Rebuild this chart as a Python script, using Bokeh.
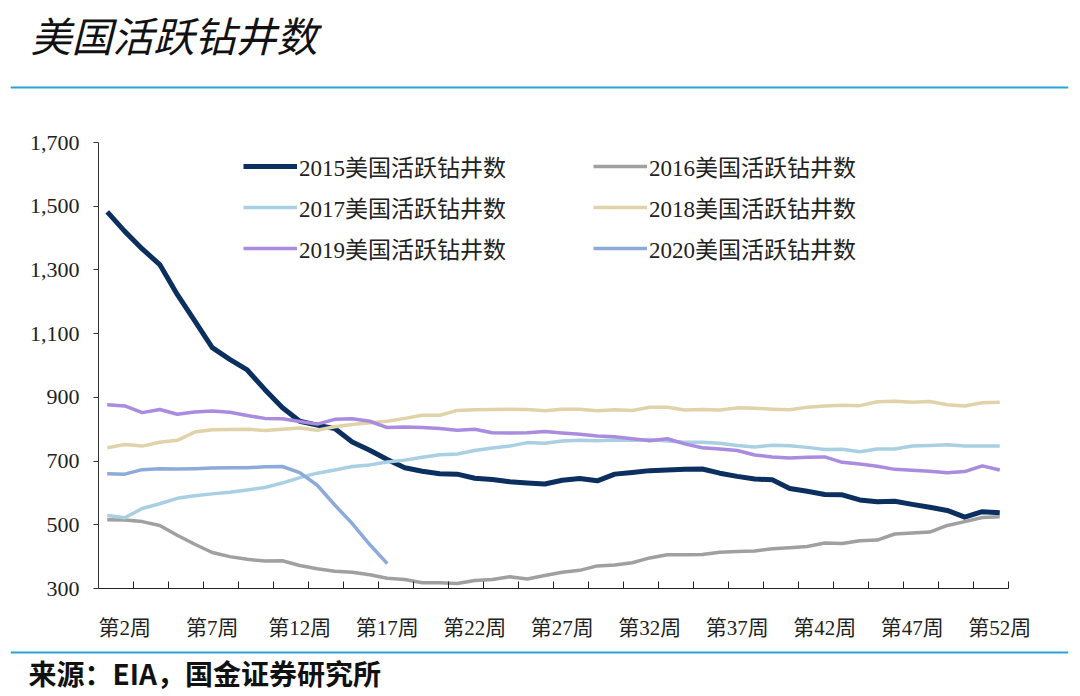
from bokeh.plotting import figure
from bokeh.layouts import column
from bokeh.models import (Range1d, FixedTicker, NumeralTickFormatter, Legend,
                          LegendItem, Label, Span)
from bokeh.embed import file_html
from bokeh.resources import INLINE

# ---------------- data ----------------
weeks = list(range(1, 53))
label_weeks = list(range(2, 53, 5))
week_labels = [f"第{w}周" for w in label_weeks]
y_ticks = list(range(300, 1701, 200))

y2015 = [1482, 1421, 1366, 1317, 1223, 1140, 1056, 1019, 986, 925, 868, 825, 813,
         802, 760, 734, 705, 679, 668, 660, 659, 646, 642, 635, 631, 628, 640, 645,
         638, 659, 664, 670, 672, 674, 675, 662, 652, 644, 641, 614, 605, 595, 594,
         578, 572, 574, 564, 555, 545, 524, 541, 538]
y2016 = [516, 515, 510, 498, 467, 439, 413, 400, 392, 386, 387, 372, 362, 354, 351,
         343, 332, 328, 318, 318, 316, 325, 328, 337, 330, 341, 351, 357, 371, 374,
         381, 396, 406, 406, 407, 414, 416, 418, 425, 428, 432, 443, 441, 450, 452,
         471, 474, 477, 498, 510, 523, 525]
y2017 = [529, 522, 551, 566, 583, 591, 597, 602, 609, 617, 631, 648, 662, 672, 683,
         688, 697, 703, 712, 720, 722, 733, 741, 747, 758, 756, 763, 765, 764, 766,
         765, 768, 763, 759, 759, 756, 749, 744, 750, 748, 743, 736, 737, 729, 738,
         738, 747, 749, 751, 747, 747, 747]
y2018 = [742, 752, 747, 759, 765, 791, 798, 799, 800, 796, 800, 804, 797, 808, 815,
         820, 825, 834, 844, 844, 859, 861, 862, 863, 862, 858, 863, 863, 858, 861,
         859, 869, 869, 860, 862, 860, 867, 866, 863, 861, 869, 873, 875, 874, 886,
         888, 885, 887, 877, 873, 883, 885]
y2019 = [877, 873, 852, 862, 847, 854, 857, 853, 843, 834, 833, 824, 816, 831, 833,
         825, 805, 807, 805, 802, 797, 800, 789, 788, 789, 793, 788, 784, 779, 776,
         770, 764, 770, 754, 742, 738, 733, 719, 713, 710, 712, 713, 696, 691, 684,
         674, 671, 668, 663, 667, 685, 672]
y2020 = [660, 659, 673, 676, 675, 676, 678, 679, 679, 682, 683, 664, 624, 562, 504,
         438, 378]

series_names = ["2015美国活跃钻井数", "2016美国活跃钻井数", "2017美国活跃钻井数",
                "2018美国活跃钻井数", "2019美国活跃钻井数", "2020美国活跃钻井数"]
series_values = [y2015, y2016, y2017, y2018, y2019, y2020]
series_colors = ["#0b2f5f", "#a0a0a0", "#a9cfe2", "#e0d3a9", "#a98be0", "#8eaadb"]
series_widths = [5, 3.5, 3.5, 3.5, 3.5, 3.5]

title_text = "美国活跃钻井数"
source_text = "来源：EIA，国金证券研究所"

SERIF_CJK = "Liberation Serif, Noto Sans CJK SC"
RULE_COLOR = "#2aa3d6"
W = 1072


def deco_figure(height):
    f = figure(width=W, height=height, output_backend="svg", toolbar_location=None,
               title=None, x_range=Range1d(0, 1058), y_range=Range1d(0, height),
               x_axis_type=None, y_axis_type=None,
               min_border_left=10, min_border_right=4, min_border_top=0,
               min_border_bottom=0)
    f.outline_line_color = None
    f.grid.visible = False
    return f


# ---------------- header ----------------
top = deco_figure(95)
top.add_layout(Label(x=20, y=62, x_units="screen", y_units="screen",
                     text=title_text, text_font="Noto Sans CJK SC",
                     text_font_style="italic", text_font_size="41px",
                     text_baseline="middle", text_color="#111111"))
top.add_layout(Span(location=8, dimension="width", line_color=RULE_COLOR,
                    line_width=2))

# ---------------- main chart ----------------
p = figure(width=W, height=547, output_backend="svg", toolbar_location=None,
           x_range=Range1d(0.5, 52.5), y_range=Range1d(300, 1700),
           min_border_left=98, min_border_right=64, min_border_top=47,
           min_border_bottom=45)
p.outline_line_color = None
p.grid.visible = False

renderers = []
for vals, col, lw in zip(series_values, series_colors, series_widths):
    r = p.line(weeks[:len(vals)], vals, line_color=col, line_width=lw,
               line_join="round")
    renderers.append(r)

yax = p.yaxis[0]
yax.ticker = FixedTicker(ticks=y_ticks)
yax.formatter = NumeralTickFormatter(format="0,0")
yax.major_tick_out = 5
yax.major_tick_in = 0
yax.minor_tick_line_color = None
yax.major_label_text_font = "Liberation Serif"
yax.major_label_text_font_size = "22px"
yax.major_label_text_color = "#222222"
yax.major_label_standoff = 14
yax.axis_line_color = "#333333"
yax.major_tick_line_color = "#333333"

xax = p.xaxis[0]
xax.ticker = FixedTicker(ticks=label_weeks,
                         minor_ticks=[w + 0.5 for w in range(2, 53, 2)])
xax.major_label_overrides = {w: t for w, t in zip(label_weeks, week_labels)}
xax.major_tick_line_color = None
xax.minor_tick_in = 7
xax.minor_tick_out = 0
xax.minor_tick_line_color = "#222222"
xax.axis_line_color = "#222222"
xax.major_label_text_font = SERIF_CJK
xax.major_label_text_font_size = "21px"
xax.major_label_text_color = "#222222"
xax.major_label_standoff = 21

# legend: Bokeh fills columns first, so order items column by column
order = [0, 2, 4, 1, 3, 5]
items = [LegendItem(label=series_names[i], renderers=[renderers[i]]) for i in order]
legend = Legend(items=items, ncols=2, location=(145, 323),
                glyph_width=54, glyph_height=20, label_height=20, label_width=287,
                spacing=7, padding=0, margin=0, label_standoff=2,
                border_line_color=None, background_fill_alpha=0,
                label_text_font=SERIF_CJK, label_text_font_size="23px",
                label_text_color="#222222")
p.add_layout(legend)

# ---------------- footer: rule strip + source line ----------------
rule = deco_figure(12)
rule.add_layout(Span(location=2, dimension="width", line_color=RULE_COLOR,
                     line_width=2))

bot = deco_figure(38)
bot.add_layout(Label(x=18, y=20, x_units="screen", y_units="screen",
                     text=source_text, text_font="Noto Sans CJK SC",
                     text_font_style="bold", text_font_size="28px",
                     text_baseline="middle", text_color="#111111"))

layout = column(column(top), p, column(rule), column(bot), spacing=0)
open("out.html", "w").write(file_html(layout, INLINE))
